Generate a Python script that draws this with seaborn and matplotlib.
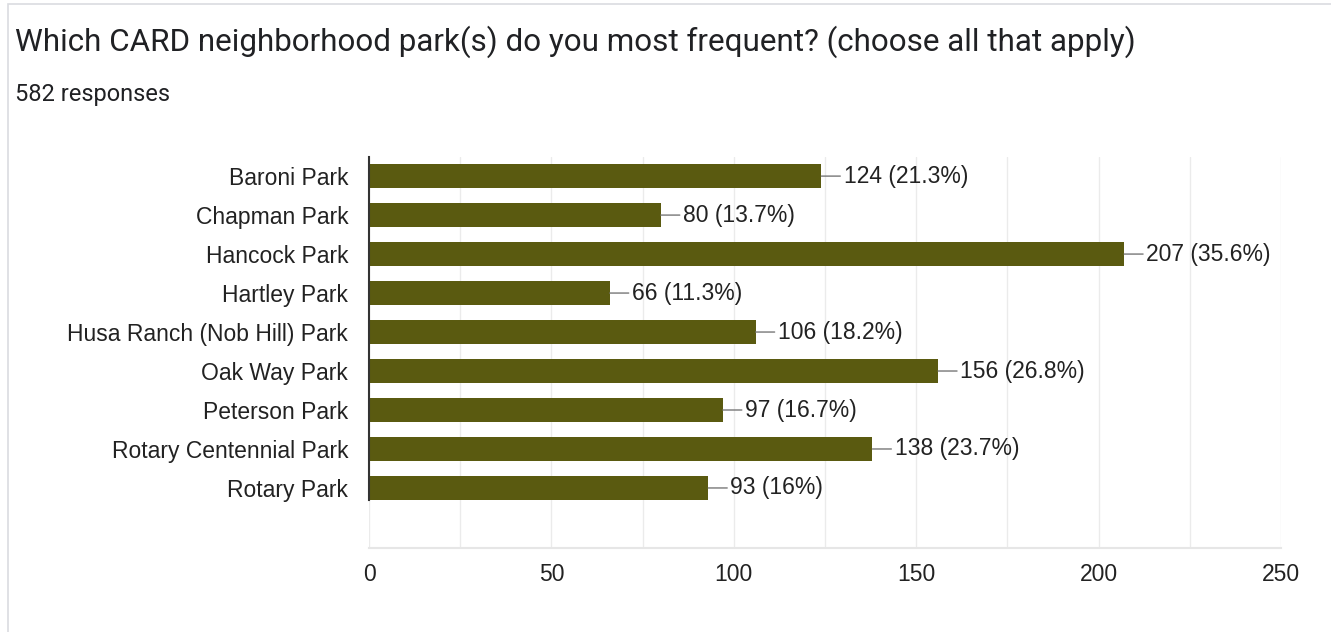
import matplotlib
matplotlib.use("Agg")
import matplotlib.pyplot as plt
import matplotlib.patches as mpatches
import seaborn as sns
import pandas as pd

# data
parks = ["Baroni Park", "Chapman Park", "Hancock Park", "Hartley Park",
         "Husa Ranch (Nob Hill) Park", "Oak Way Park", "Peterson Park",
         "Rotary Centennial Park", "Rotary Park"]
counts = [124, 80, 207, 66, 106, 156, 97, 138, 93]
pct_labels = ["21.3%", "13.7%", "35.6%", "11.3%", "18.2%", "26.8%", "16.7%", "23.7%", "16%"]
total_responses = 582
x_ticks = [0, 50, 100, 150, 200, 250]

df = pd.DataFrame({"park": parks, "count": counts})

sns.set_style("white")
plt.rcParams["font.family"] = ["Liberation Sans", "DejaVu Sans"]

fig = plt.figure(figsize=(13.31, 6.32), dpi=100)
# card border
fig.patches.append(mpatches.Rectangle((8 / 1331, -0.01), 1.02, 1 - 4 / 632 + 0.01,
                                      transform=fig.transFigure, fill=False,
                                      edgecolor="#dadce0", lw=1.2))

fig.text(15 / 1331, 1 - 42 / 632, "Which CARD neighborhood park(s) do you most frequent? (choose all that apply)",
         fontsize=22.6, family=["Roboto", "DejaVu Sans"], color="#202124", va="center")
fig.text(15 / 1331, 1 - 95 / 632, f"{total_responses} responses",
         fontsize=17, family=["Roboto", "DejaVu Sans"], color="#202124", va="center")

ax = fig.add_axes([369 / 1331, 1 - 548 / 632, 912 / 1331, 391 / 632])
sns.barplot(data=df, y="park", x="count", orient="h", color="#5a5a10",
            width=0.62, saturation=1, edgecolor="none", ax=ax)

ax.set_xlim(0, 250)
ax.set_ylim(9.54, -0.49)
ax.set_xticks(x_ticks)
ax.set_xticks(range(25, 250, 50), minor=True)
ax.grid(axis="x", which="both", color="#ebebeb", lw=1)
ax.set_axisbelow(True)
ax.tick_params(axis="both", which="both", length=0, labelsize=16.5, colors="#222222")
ax.tick_params(axis="x", pad=11)
ax.tick_params(axis="y", pad=15)
ax.set_xlabel("")
ax.set_ylabel("")

for s in ["top", "right"]:
    ax.spines[s].set_visible(False)
ax.spines["left"].set_color("#333333")
ax.spines["left"].set_linewidth(1.5)
ax.spines["left"].set_bounds(8.3, -0.49)
ax.spines["bottom"].set_color("#e6e6e6")
ax.spines["bottom"].set_linewidth(1.5)

for i, (v, p) in enumerate(zip(counts, pct_labels)):
    ax.annotate(f"{v} ({p})", xy=(v, i), xytext=(16, 0), textcoords="offset points",
                va="center", ha="left", fontsize=16.5, color="#222222",
                arrowprops=dict(arrowstyle="-", color="#777777", lw=1,
                                shrinkA=0, shrinkB=0))

plt.savefig("out.png", dpi=100)
